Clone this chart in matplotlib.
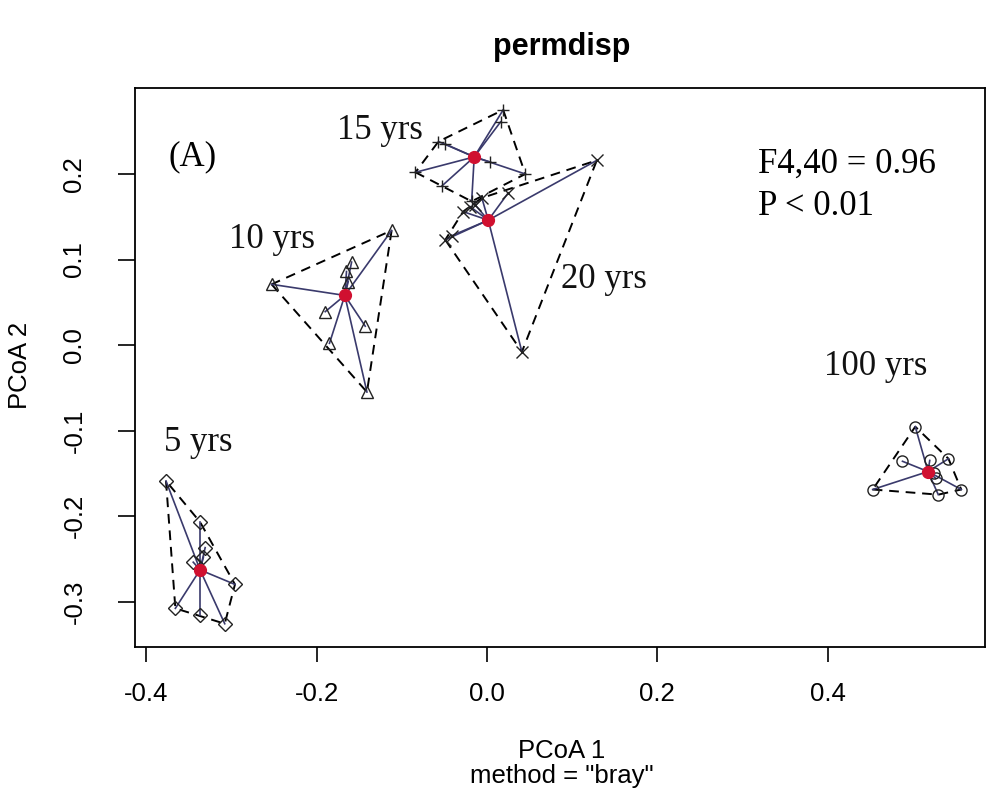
import numpy as np
import matplotlib
matplotlib.use("Agg")
import matplotlib.pyplot as plt

# PCoA scores per age group (axis 1, axis 2)
yrs5_x = [-0.377, -0.337, -0.331, -0.345, -0.333, -0.296, -0.366, -0.337, -0.308]
yrs5_y = [-0.159, -0.207, -0.237, -0.254, -0.248, -0.280, -0.308, -0.316, -0.326]
yrs10_x = [-0.253, -0.112, -0.159, -0.165, -0.163, -0.190, -0.143, -0.185, -0.141]
yrs10_y = [0.071, 0.134, 0.097, 0.086, 0.074, 0.039, 0.022, 0.002, -0.055]
yrs15_x = [0.019, 0.016, -0.057, -0.049, 0.004, -0.084, 0.045, -0.053, -0.018]
yrs15_y = [0.275, 0.261, 0.238, 0.235, 0.214, 0.202, 0.200, 0.186, 0.168]
yrs20_x = [0.129, 0.025, -0.006, -0.014, -0.028, -0.049, -0.041, 0.041, -0.020]
yrs20_y = [0.216, 0.178, 0.172, 0.164, 0.156, 0.123, 0.128, -0.008, 0.162]
yrs100_x = [0.503, 0.488, 0.520, 0.542, 0.527, 0.525, 0.453, 0.557, 0.530]
yrs100_y = [-0.0955, -0.136, -0.135, -0.133, -0.156, -0.150, -0.169, -0.169, -0.175]

# group centroids
cent_x = [-0.337, -0.167, -0.015, 0.0015, 0.518]
cent_y = [-0.263, 0.058, 0.220, 0.146, -0.148]

group_labels = ["5 yrs", "10 yrs", "15 yrs", "20 yrs", "100 yrs"]
label_x = [-0.339, -0.252, -0.126, 0.137, 0.457]
label_y = [-0.124, 0.113, 0.241, 0.0667, -0.035]
markers = ["D", "^", "+", "x", "o"]

groups = [(yrs5_x, yrs5_y), (yrs10_x, yrs10_y), (yrs15_x, yrs15_y),
          (yrs20_x, yrs20_y), (yrs100_x, yrs100_y)]


def convex_hull(pts):
    pts = sorted(set(pts))
    def cross(o, a, b):
        return (a[0] - o[0]) * (b[1] - o[1]) - (a[1] - o[1]) * (b[0] - o[0])
    lower, upper = [], []
    for p in pts:
        while len(lower) >= 2 and cross(lower[-2], lower[-1], p) <= 0:
            lower.pop()
        lower.append(p)
    for p in reversed(pts):
        while len(upper) >= 2 and cross(upper[-2], upper[-1], p) <= 0:
            upper.pop()
        upper.append(p)
    return lower[:-1] + upper[:-1]


serif = "Liberation Serif"
sans = "Liberation Sans"

fig = plt.figure(figsize=(9.87, 8.11), dpi=100)
W, H = 987, 811
ax = fig.add_axes([135 / W, 1 - 647 / H, 850 / W, 559 / H])

seg_col = "#3a3a6c"
for i, (gx, gy) in enumerate(groups):
    cx, cy = cent_x[i], cent_y[i]
    # spider segments to centroid
    for px, py in zip(gx, gy):
        ax.plot([cx, px], [cy, py], color=seg_col, lw=1.2, zorder=2)
    # dashed hull
    hull = convex_hull(list(zip(gx, gy)))
    hull.append(hull[0])
    hx, hy = zip(*hull)
    ax.plot(hx, hy, color="black", lw=1.4, ls=(0, (5, 3.5)), zorder=1)
    ax.plot(gx, gy, ls="none", marker=markers[i], ms=8 if markers[i] != "D" else 7.5,
            mfc="none", mec="#222222", mew=1.0, zorder=3)
    ax.plot(cx, cy, "o", color="#d01030", ms=8.5, zorder=4)
    ax.text(label_x[i], label_y[i], group_labels[i], fontsize=25, family=serif,
            ha="center", va="baseline", color="#111111")

ax.text(-0.346, 0.220, "(A)", fontsize=25, family=serif, ha="center", va="center")
ax.text(0.318, 0.202, "F4,40 = 0.96", fontsize=25, family=serif, ha="left", va="baseline")
ax.text(0.318, 0.152, "P < 0.01", fontsize=25, family=serif, ha="left", va="baseline")

ax.set_xlim(-0.4134, 0.5849)
ax.set_ylim(-0.3532, 0.3006)
ax.set_xticks([-0.4, -0.2, 0.0, 0.2, 0.4])
ax.set_yticks([-0.3, -0.2, -0.1, 0.0, 0.1, 0.2])
ax.set_xticklabels(["-0.4", "-0.2", "0.0", "0.2", "0.4"], family=sans, fontsize=18.5)
ax.set_yticklabels(["-0.3", "-0.2", "-0.1", "0.0", "0.1", "0.2"], family=sans,
                   fontsize=18.5, rotation=90, va="center")
ax.tick_params(axis="x", direction="out", length=11, width=1.2, pad=14)
ax.tick_params(axis="y", direction="out", length=12, width=1.2, pad=23)
for s in ax.spines.values():
    s.set_linewidth(1.3)

fig.text(562 / W, 1 - 55 / H, "permdisp", family=sans, fontsize=22, weight="bold",
         ha="center", va="baseline")
fig.text(562 / W, 1 - 758 / H, "PCoA 1", family=sans, fontsize=18.5,
         ha="center", va="baseline")
fig.text(562 / W, 1 - 783 / H, 'method = "bray"', family=sans, fontsize=18.5,
         ha="center", va="baseline")
fig.text(20 / W, 1 - 365 / H, "PCoA 2", family=sans, fontsize=18.5,
         ha="center", va="center", rotation=90)

fig.savefig("out.png", dpi=100)
